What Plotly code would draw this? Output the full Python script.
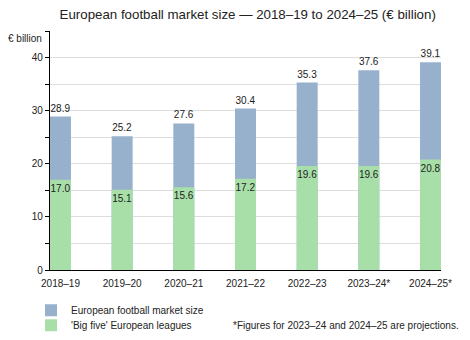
import plotly.graph_objects as go

# Season labels (asterisk marks projected seasons)
seasons = ["2018–19", "2019–20", "2020–21", "2021–22", "2022–23", "2023–24*", "2024–25*"]
# Total European football market size, € billion
market_total = [28.9, 25.2, 27.6, 30.4, 35.3, 37.6, 39.1]
# Revenue of the 'Big five' European leagues, € billion
big_five = [17.0, 15.1, 15.6, 17.2, 19.6, 19.6, 20.8]

y_ticks = [0, 5, 10, 15, 20, 25, 30, 35, 40, 45]
y_ticktext = ["0", "", "10", "", "20", "", "30", "", "40", ""]

BLUE = "#97b0cc"
GREEN = "#a8dfa8"
FONT = "Liberation Sans, Arial, sans-serif"
TEXT = "#222222"

fig = go.Figure()
fig.add_trace(go.Bar(
    x=seasons, y=market_total, name="European football market size",
    marker=dict(color=BLUE, line=dict(width=0)),
    text=[f"{v:.1f}" for v in market_total], textposition="outside",
    textfont=dict(size=10, color=TEXT, family=FONT), cliponaxis=False,
    constraintext="none", width=0.34, legend="legend",
))
fig.add_trace(go.Bar(
    x=seasons, y=big_five, name="'Big five' European leagues",
    marker=dict(color=GREEN, line=dict(width=0)),
    text=[f"{v:.1f}" for v in big_five], textposition="inside",
    insidetextanchor="end", textangle=0, constraintext="none",
    textfont=dict(size=10, color=TEXT, family=FONT),
    width=0.34, legend="legend2",
))

legend_style = dict(xref="container", yref="container", xanchor="left", yanchor="top",
                    orientation="v", font=dict(size=10, color=TEXT, family=FONT),
                    itemwidth=30, bgcolor="rgba(0,0,0,0)", borderwidth=0)

fig.update_layout(
    width=470, height=340,
    barmode="overlay",
    paper_bgcolor="white", plot_bgcolor="white",
    margin=dict(l=50, r=29, t=31, b=70, autoexpand=False),
    font=dict(family=FONT, size=10, color=TEXT),
    title=dict(text="European football market size — 2018–19 to 2024–25 (€ billion)",
               x=0.527, xanchor="center", y=0.958, yanchor="middle",
               font=dict(size=13.3, color=TEXT, family=FONT)),
    xaxis=dict(range=[-0.17, 6.17], showline=True, linecolor="#000", linewidth=1.2,
               ticks="", showgrid=False, ticklabelstandoff=4,
               tickfont=dict(size=10, color=TEXT)),
    yaxis=dict(range=[0, 45], tickvals=y_ticks, ticktext=y_ticktext,
               showline=True, linecolor="#000", linewidth=1.2,
               ticks="outside", ticklen=4, tickcolor="#000",
               showgrid=True, gridcolor="#dddddd", gridwidth=1,
               zeroline=False, tickfont=dict(size=10, color=TEXT)),
    showlegend=True,
    legend=dict(x=0.066, y=0.13, **legend_style),
    legend2=dict(x=0.066, y=0.086, **legend_style),
)

fig.add_annotation(text="€ billion", xref="paper", yref="paper", x=-0.015, y=1.0,
                   xanchor="right", yanchor="top", showarrow=False,
                   font=dict(size=10, color=TEXT))
fig.add_annotation(text="*Figures for 2023–24 and 2024–25 are projections.",
                   xref="paper", yref="paper", x=1.051, y=-0.234,
                   xanchor="right", yanchor="middle", showarrow=False,
                   font=dict(size=10, color=TEXT))

fig.write_html("out.html")
